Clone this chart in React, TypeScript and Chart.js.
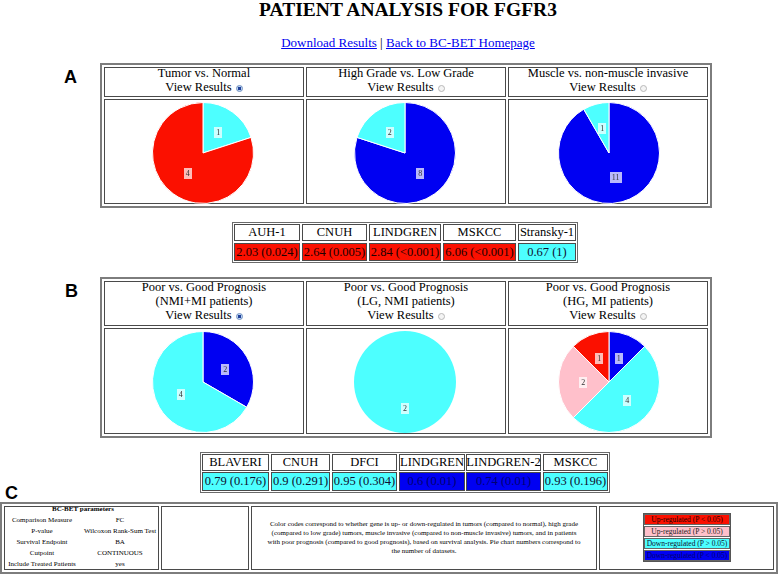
import React, { useEffect, useRef } from "react";
import { Chart, registerables } from "chart.js";

Chart.register(...registerables);

// ---------------- DATA ----------------
const pageTitle = "PATIENT ANALYSIS FOR FGFR3";
const linkLabels = ["Download Results", "Back to BC-BET Homepage"];

const comparisonsA = ["Tumor vs. Normal", "High Grade vs. Low Grade", "Muscle vs. non-muscle invasive"];
const comparisonsB = ["Poor vs. Good Prognosis", "Poor vs. Good Prognosis", "Poor vs. Good Prognosis"];
const subgroupsB = ["(NMI+MI patients)", "(LG, NMI patients)", "(HG, MI patients)"];
const selectedA = [true, false, false];
const selectedB = [true, false, false];

const pieA1Counts = [1, 4];
const pieA1Classes = ["downNS", "upSig"];
const pieA2Counts = [8, 2];
const pieA2Classes = ["downSig", "downNS"];
const pieA3Counts = [11, 1];
const pieA3Classes = ["downSig", "downNS"];

const pieB1Counts = [2, 4];
const pieB1Classes = ["downSig", "downNS"];
const pieB2Counts = [2];
const pieB2Classes = ["downNS"];
const pieB3Counts = [1, 4, 2, 1];
const pieB3Classes = ["downSig", "downNS", "upNS", "upSig"];

const datasetsA = ["AUH-1", "CNUH", "LINDGREN", "MSKCC", "Stransky-1"];
const foldChangeA = [2.03, 2.64, 2.84, 6.06, 0.67];
const pValueA = ["0.024", "0.005", "<0.001", "<0.001", "1"];
const classA = ["upSig", "upSig", "upSig", "upSig", "downNS"];

const datasetsB = ["BLAVERI", "CNUH", "DFCI", "LINDGREN", "LINDGREN-2", "MSKCC"];
const hazardB = [0.79, 0.9, 0.95, 0.6, 0.74, 0.93];
const pValueB = ["0.176", "0.291", "0.304", "0.01", "0.01", "0.196"];
const classB = ["downNS", "downNS", "downNS", "downSig", "downSig", "downNS"];

const paramNames = ["Comparison Measure", "P-value", "Survival Endpoint", "Cutpoint", "Include Treated Patients"];
const paramValues = ["FC", "Wilcoxon Rank-Sum Test", "BA", "CONTINUOUS", "yes"];

const noteLines = [
  "Color codes correspond to whether gene is up- or down-regulated in tumors (compared to normal), high grade",
  "(compared to low grade) tumors, muscle invasive (compared to non-muscle invasive) tumors, and in patients",
  "with poor prognosis (compared to good prognosis), based on survival analysis. Pie chart numbers correspond to",
  "the number of datasets.",
];

const legendClasses = ["upSig", "upNS", "downNS", "downSig"];
const legendLabels = [
  "Up-regulated (P < 0.05)",
  "Up-regulated (P > 0.05)",
  "Down-regulated (P > 0.05)",
  "Down-regulated (P < 0.05)",
];

// ---------------- STYLE ----------------
const COLORS: Record<string, string> = {
  upSig: "#fb1000",
  upNS: "#ffc0cb",
  downNS: "#4dffff",
  downSig: "#0000f2",
};
const TEXT_ON: Record<string, string> = {
  upSig: "#200000",
  upNS: "#202020",
  downNS: "#101030",
  downSig: "#000070",
};
const SERIF = '"Liberation Serif", "Times New Roman", serif';
const SANS = '"Liberation Sans", Arial, sans-serif';
const PIE_SIZE = 106;

const labelPlugin = {
  id: "sliceLabels",
  afterDatasetsDraw(chart: any) {
    const ctx = chart.ctx;
    const meta = chart.getDatasetMeta(0);
    const data = chart.data.datasets[0].data;
    ctx.save();
    ctx.font = '8px "Liberation Serif"';
    ctx.textAlign = "center";
    ctx.textBaseline = "middle";
    meta.data.forEach((arc: any, i: number) => {
      const p = arc.getProps(["x", "y", "startAngle", "endAngle", "outerRadius"], true);
      const mid = (p.startAngle + p.endAngle) / 2;
      const r = p.outerRadius * 0.51;
      const px = p.x + Math.cos(mid) * r;
      const py = p.y + Math.sin(mid) * r;
      const txt = String(data[i]);
      const w = ctx.measureText(txt).width + 4;
      const h = 11;
      ctx.fillStyle = "rgba(255,255,255,0.72)";
      ctx.fillRect(Math.round(px - w / 2), Math.round(py - h / 2), Math.round(w), h);
      ctx.fillStyle = "#333";
      ctx.fillText(txt, px, py + 0.5);
    });
    ctx.restore();
  },
};

function Pie({ counts, classes, cx, cy }: { counts: number[]; classes: string[]; cx: number; cy: number }) {
  const ref = useRef<HTMLCanvasElement | null>(null);
  useEffect(() => {
    if (!ref.current) return;
    const chart = new Chart(ref.current, {
      type: "pie",
      data: {
        labels: classes,
        datasets: [
          {
            data: counts,
            backgroundColor: classes.map((c) => COLORS[c]),
            borderColor: "#ffffff",
            borderWidth: counts.length > 1 ? 1 : 0,
          },
        ],
      },
      options: {
        responsive: false,
        maintainAspectRatio: false,
        animation: false,
        events: [],
        layout: { padding: 2 },
        plugins: { legend: { display: false }, tooltip: { enabled: false } },
      },
      plugins: [labelPlugin],
    } as any);
    return () => chart.destroy();
  }, []);
  return (
    <canvas
      ref={ref}
      width={PIE_SIZE}
      height={PIE_SIZE}
      style={{ position: "absolute", left: cx - PIE_SIZE / 2, top: cy - PIE_SIZE / 2, width: PIE_SIZE, height: PIE_SIZE }}
    />
  );
}

function T({ x, w, base, fs = 12.5, bold = false, family = SERIF, color = "#000", align = "center", children }: any) {
  return (
    <div
      style={{
        position: "absolute",
        left: x,
        width: w,
        top: base - 0.8375 * fs,
        height: fs,
        fontSize: fs,
        lineHeight: fs + "px",
        fontFamily: family,
        fontWeight: bold ? "bold" : "normal",
        textAlign: align,
        color,
        whiteSpace: "nowrap",
      }}
    >
      {children}
    </div>
  );
}

function Box({ x, y, w, h, border = "1px solid #4a4a4a", bg = "transparent", children, center = false, fs, color }: any) {
  return (
    <div
      style={{
        position: "absolute",
        left: x,
        top: y,
        width: w,
        height: h,
        boxSizing: "border-box",
        border,
        background: bg,
        display: center ? "flex" : "block",
        alignItems: "center",
        justifyContent: "center",
        fontFamily: SERIF,
        fontSize: fs,
        color,
        whiteSpace: "nowrap",
        overflow: "visible",
      }}
    >
      {children}
    </div>
  );
}

function Radio({ on }: { on: boolean }) {
  return (
    <span
      style={{
        display: "inline-block",
        width: 7,
        height: 7,
        boxSizing: "border-box",
        borderRadius: "50%",
        border: on ? "1px solid #6f8fbf" : "1px solid #b8b8b8",
        background: on ? "radial-gradient(circle, #1d3f9a 0 1.6px, #bfd6f2 2px)" : "#f4f4f4",
        verticalAlign: "-1px",
        marginLeft: 4,
      }}
    />
  );
}

const FRAME = "2px solid #7d7d7d";
const colX = [104, 306, 508];
const colW = 200;
const pieCX = [203, 405, 609];
const rowAX = [234, 302, 369, 443, 518];
const rowAW = [66, 65, 72, 73, 58];
const rowBX = [202, 271, 332, 399, 466, 543];
const rowBW = [67, 59, 65, 66, 75, 65];

export default function App() {
  const piesA = [
    [pieA1Counts, pieA1Classes],
    [pieA2Counts, pieA2Classes],
    [pieA3Counts, pieA3Classes],
  ] as [number[], string[]][];
  const piesB = [
    [pieB1Counts, pieB1Classes],
    [pieB2Counts, pieB2Classes],
    [pieB3Counts, pieB3Classes],
  ] as [number[], string[]][];

  return (
    <div style={{ position: "absolute", left: 0, top: 0, width: 778, height: 576, background: "#fff", overflow: "hidden" }}>
      <T x={208} w={400} base={16.5} fs={19.5} bold>
        {pageTitle}
      </T>
      <T x={208} w={400} base={47} fs={13}>
        <span style={{ color: "#0000ee", textDecoration: "underline" }}>{linkLabels[0]}</span>
        <span> | </span>
        <span style={{ color: "#0000ee", textDecoration: "underline" }}>{linkLabels[1]}</span>
      </T>

      {/* Section A */}
      <T x={64} w={30} base={83} fs={18} bold family={SANS} align="left">A</T>
      <Box x={100} y={63} w={612} h={145} border={FRAME} />
      {colX.map((x, i) => (
        <React.Fragment key={"ah" + i}>
          <Box x={x} y={67} w={colW} h={30} />
          <Box x={x} y={99} w={colW} h={105} />
          <T x={x} w={colW} base={77.3}>{comparisonsA[i]}</T>
          <T x={x} w={colW} base={91.7}>
            View Results
            <Radio on={selectedA[i]} />
          </T>
          <Pie counts={piesA[i][0]} classes={piesA[i][1]} cx={pieCX[i]} cy={152.5} />
        </React.Fragment>
      ))}

      <Box x={232} y={222} w={346} h={41} border="1px solid #6a6a6a" />
      {datasetsA.map((d, i) => (
        <React.Fragment key={"av" + i}>
          <Box x={rowAX[i]} y={224} w={rowAW[i]} h={17} center fs={12.5}>{d}</Box>
          <Box x={rowAX[i]} y={243} w={rowAW[i]} h={18} center fs={12.5} bg={COLORS[classA[i]]} color={TEXT_ON[classA[i]]}>
            {String(foldChangeA[i]) + " (" + pValueA[i] + ")"}
          </Box>
        </React.Fragment>
      ))}

      {/* Section B */}
      <T x={65} w={30} base={297} fs={18} bold family={SANS} align="left">B</T>
      <Box x={100} y={277} w={612} h={161} border={FRAME} />
      {colX.map((x, i) => (
        <React.Fragment key={"bh" + i}>
          <Box x={x} y={281} w={colW} h={45} />
          <Box x={x} y={328} w={colW} h={106} />
          <T x={x} w={colW} base={291.5}>{comparisonsB[i]}</T>
          <T x={x} w={colW} base={305.5}>{subgroupsB[i]}</T>
          <T x={x} w={colW} base={319.5}>
            View Results
            <Radio on={selectedB[i]} />
          </T>
          <Pie counts={piesB[i][0]} classes={piesB[i][1]} cx={pieCX[i]} cy={381.5} />
        </React.Fragment>
      ))}

      <Box x={200} y={452} w={410} h={41} border="1px solid #6a6a6a" />
      {datasetsB.map((d, i) => (
        <React.Fragment key={"bv" + i}>
          <Box x={rowBX[i]} y={454} w={rowBW[i]} h={17} center fs={12.5}>{d}</Box>
          <Box x={rowBX[i]} y={472} w={rowBW[i]} h={19} center fs={12.5} bg={COLORS[classB[i]]} color={TEXT_ON[classB[i]]}>
            {String(hazardB[i]) + " (" + pValueB[i] + ")"}
          </Box>
        </React.Fragment>
      ))}

      {/* Section C */}
      <T x={5} w={30} base={499} fs={18} bold family={SANS} align="left">C</T>
      <Box x={0} y={502} w={778} h={72} border={FRAME} />
      <Box x={4} y={506} w={155} h={64} />
      <Box x={161} y={506} w={88} h={64} />
      <Box x={251} y={506} w={346} h={64} />
      <Box x={599} y={506} w={175} h={64} />

      <T x={4} w={158} base={511.7} fs={7} bold>BC-BET parameters</T>
      {paramNames.map((n, i) => (
        <React.Fragment key={"p" + i}>
          <T x={2} w={80} base={523 + i * 11} fs={7}>{n}</T>
          <T x={80} w={80} base={523 + i * 11} fs={7}>{paramValues[i]}</T>
        </React.Fragment>
      ))}

      {noteLines.map((l, i) => (
        <T key={"n" + i} x={251} w={346} base={526.5 + i * 9.2} fs={7}>{l}</T>
      ))}

      <Box x={643} y={513} w={88} h={49} border="1px solid #555" />
      {legendClasses.map((c, i) => (
        <Box key={"l" + i} x={644} y={514 + i * 12} w={86} h={11} border="1px solid #666" bg={COLORS[c]} center fs={7.5} color={TEXT_ON[c]}>
          {legendLabels[i]}
        </Box>
      ))}
    </div>
  );
}
